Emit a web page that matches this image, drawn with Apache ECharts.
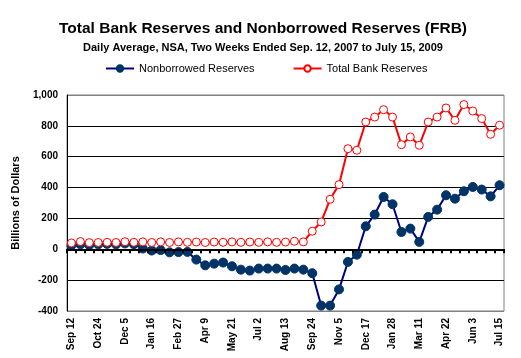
<!DOCTYPE html>
<html><head><meta charset="utf-8">
<script src="https://cdn.jsdelivr.net/npm/echarts@6/dist/echarts.min.js"></script>
<style>html,body{margin:0;padding:0;background:#fff}#c{width:521px;height:358px}</style>
</head><body><div id="c"></div>
<script>
const categories = ["Sep 12","Sep 26","Oct 10","Oct 24","Nov 7","Nov 21","Dec 5","Dec 19","Jan 2","Jan 16","Jan 30","Feb 13","Feb 27","Mar 12","Mar 26","Apr 9","Apr 23","May 7","May 21","Jun 4","Jun 18","Jul 2","Jul 16","Jul 30","Aug 13","Aug 27","Sep 10","Sep 24","Oct 8","Oct 22","Nov 5","Nov 19","Dec 3","Dec 17","Dec 31","Jan 14","Jan 28","Feb 11","Feb 25","Mar 11","Mar 25","Apr 8","Apr 22","May 6","May 20","Jun 3","Jun 17","Jul 1","Jul 15"];
const nonborrowed = [25,32,28,32,35,32,38,33,5,-8,-5,-20,-18,-17,-67,-104,-93,-86,-110,-132,-138,-125,-125,-125,-134,-125,-132,-155,-365,-365,-260,-82,-35,149,225,339,292,112,134,48,210,257,350,328,376,404,387,343,415];
const totalReserves = [41,50,43,44,45,44,49,45,48,44,48,44,48,45,47,44,47,45,48,45,47,45,48,45,47,52,48,117,177,324,419,652,642,825,857,905,857,678,728,674,825,857,916,836,938,896,847,745,804];
const yMin = -400, yMax = 1000, yStep = 200;
const seriesNames = ["Nonborrowed Reserves", "Total Bank Reserves"];

const FONT = 'Arial, "Liberation Sans", sans-serif';
const chart = echarts.init(document.getElementById('c'), null, {renderer: 'canvas'});
chart.setOption({
  animation: false,
  backgroundColor: '#fff',
  title: {
    text: 'Total Bank Reserves and Nonborrowed Reserves (FRB)',
    subtext: 'Daily Average, NSA, Two Weeks Ended Sep. 12, 2007 to July 15, 2009',
    left: 258, textAlign: 'center', top: 16, itemGap: 5,
    textStyle: {fontFamily: FONT, fontSize: 15.5, fontWeight: 'bold', color: '#000'},
    subtextStyle: {fontFamily: FONT, fontSize: 11, fontWeight: 'bold', color: '#000'}
  },
  legend: {
    top: 58, left: 100, itemGap: 38, itemWidth: 28, itemHeight: 8,
    textStyle: {fontFamily: FONT, fontSize: 11, color: '#000'},
    data: seriesNames
  },
  grid: {left: 67, right: 17, top: 95, bottom: 47, show: true, borderColor: '#808080', borderWidth: 1, containLabel: false},
  xAxis: [{
    type: 'category', data: categories, boundaryGap: true, position: 'bottom',
    axisLine: {show: true, onZero: true, onZeroAxisIndex: 0, lineStyle: {color: '#000', width: 2}},
    axisTick: {show: true, interval: 0, length: 4, inside: false, lineStyle: {color: '#000', width: 2}},
    axisLabel: {show: false}, splitLine: {show: false}, z: 5
  }, {
    type: 'category', data: categories, boundaryGap: true, position: 'bottom',
    axisLine: {show: false, onZero: false}, axisTick: {show: false},
    axisLabel: {interval: 2, rotate: 90, margin: 7, fontFamily: FONT, fontSize: 10, fontWeight: 'bold', color: '#000'},
    splitLine: {show: false}
  }],
  yAxis: {
    type: 'value', min: yMin, max: yMax, interval: yStep,
    name: 'Billions of Dollars', nameLocation: 'middle', nameGap: 46, nameRotate: 90,
    nameTextStyle: {fontFamily: FONT, fontSize: 11, fontWeight: 'bold', color: '#000'},
    axisLine: {show: true, onZero: false, lineStyle: {color: '#000', width: 1}},
    axisTick: {show: false},
    axisLabel: {margin: 9, fontFamily: FONT, fontSize: 10, fontWeight: 'bold', color: '#000',
      formatter: v => v.toLocaleString('en-US')},
    splitLine: {show: true, lineStyle: {color: ['#808080','#000','#000','#000','#000','#000','#000','#808080'], width: 1}}
  },
  series: [{
    name: seriesNames[0], type: 'line', data: nonborrowed, xAxisIndex: 0,
    symbol: 'circle', symbolSize: 9, showAllSymbol: true,
    lineStyle: {color: '#000080', width: 2},
    itemStyle: {color: '#003366', borderColor: '#003366', borderWidth: 1},
    z: 3
  }, {
    name: seriesNames[1], type: 'line', data: totalReserves, xAxisIndex: 0,
    symbol: 'circle', symbolSize: 8, showAllSymbol: true,
    lineStyle: {color: '#ff0000', width: 2},
    itemStyle: {color: '#fff', borderColor: '#ff0000', borderWidth: 1},
    z: 4
  }]
});
</script>
</body></html>
